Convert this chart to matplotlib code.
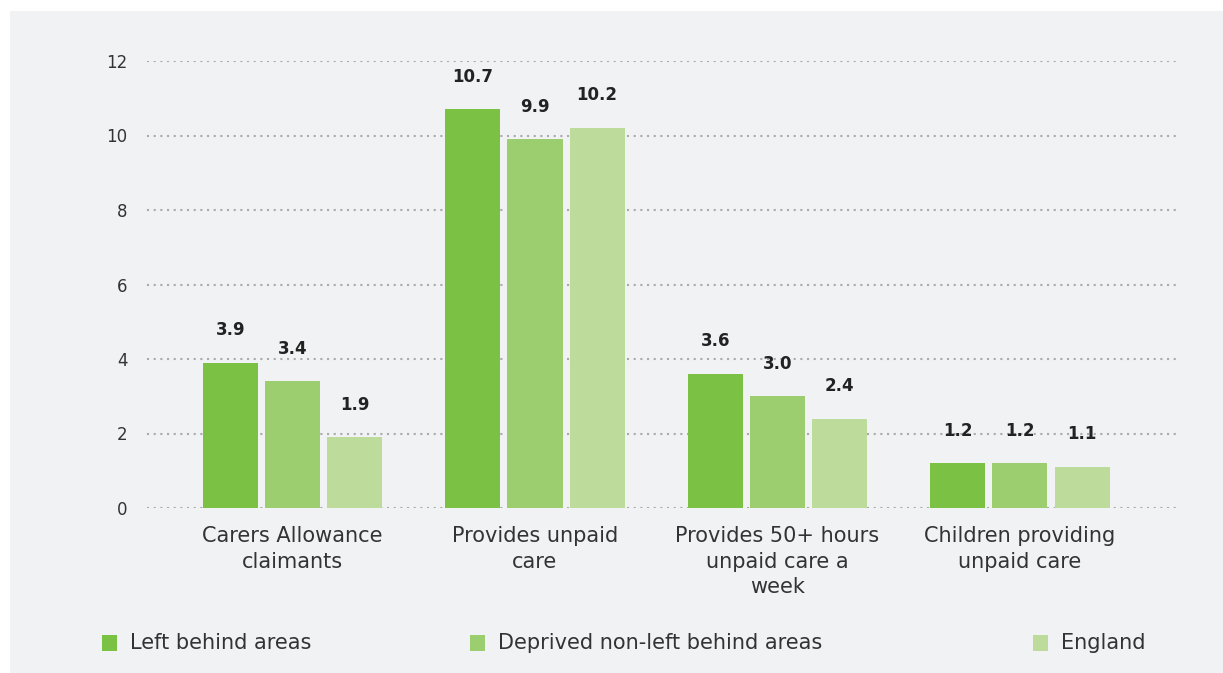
import numpy as np
import matplotlib
matplotlib.use("Agg")
import matplotlib.pyplot as plt
from matplotlib.patches import Rectangle

# data
categories = ["Carers Allowance\nclaimants", "Provides unpaid\ncare",
              "Provides 50+ hours\nunpaid care a\nweek", "Children providing\nunpaid care"]
series_names = ["Left behind areas", "Deprived non-left behind areas", "England"]
left_behind = [3.9, 10.7, 3.6, 1.2]
deprived = [3.4, 9.9, 3.0, 1.2]
england = [1.9, 10.2, 2.4, 1.1]
colors = ["#7bc144", "#9ccd6e", "#bddc9c"]

plt.rcParams["font.family"] = "DejaVu Sans"
text_col = "#333333"

fig = plt.figure(figsize=(12.23, 6.73), dpi=100, facecolor="white")
# grey panel behind the chart
fig.patches.append(Rectangle((10 / 1223, 0), 1, 1 - 11 / 673, transform=fig.transFigure,
                             facecolor="#f1f2f4", edgecolor="none", zorder=-5))

ax = fig.add_axes([147 / 1223, 1 - 508 / 673, (1180 - 147) / 1223, (508 - 61) / 673])
ax.set_facecolor("none")

x = np.arange(len(categories))
width = 0.227
step = 0.256
for i, (vals, name) in enumerate(zip([left_behind, deprived, england], series_names)):
    bars = ax.bar(x + (i - 1) * step, vals, width, color=colors[i], label=name, zorder=3)
    for b, v in zip(bars, vals):
        ax.annotate(f"{v:.1f}", (b.get_x() + b.get_width() / 2, v), xytext=(0, 17),
                    textcoords="offset points", ha="center", va="bottom",
                    fontsize=12, fontweight="bold", color="#222222", zorder=4)

ax.set_xlim(-0.6, 3.66)
ax.set_ylim(0, 12)
ax.set_yticks(range(0, 13, 2))
ax.set_xticks(x)
ax.set_xticklabels(categories, fontsize=15, color=text_col, linespacing=1.35)
ax.tick_params(axis="y", length=0, pad=14, labelsize=12, labelcolor=text_col)
ax.tick_params(axis="x", length=0, pad=13)
ax.grid(axis="y", color="#aaaaaa", linestyle=(0, (1, 2.2)), linewidth=1.5, zorder=1)
ax.grid(axis="x", visible=False)
for s in ax.spines.values():
    s.set_visible(False)

# legend drawn by hand to match the uneven spacing
leg_x = [102, 470, 1033]
for xp, name, c in zip(leg_x, series_names, colors):
    fig.patches.append(Rectangle((xp / 1223, 1 - 651 / 673), 15 / 1223, 16 / 673,
                                 transform=fig.transFigure, facecolor=c, edgecolor="none"))
    fig.text((xp + 28) / 1223, 1 - 643 / 673, name, fontsize=15, color=text_col,
             ha="left", va="center")

fig.savefig("out.png", dpi=100, facecolor=fig.get_facecolor())
